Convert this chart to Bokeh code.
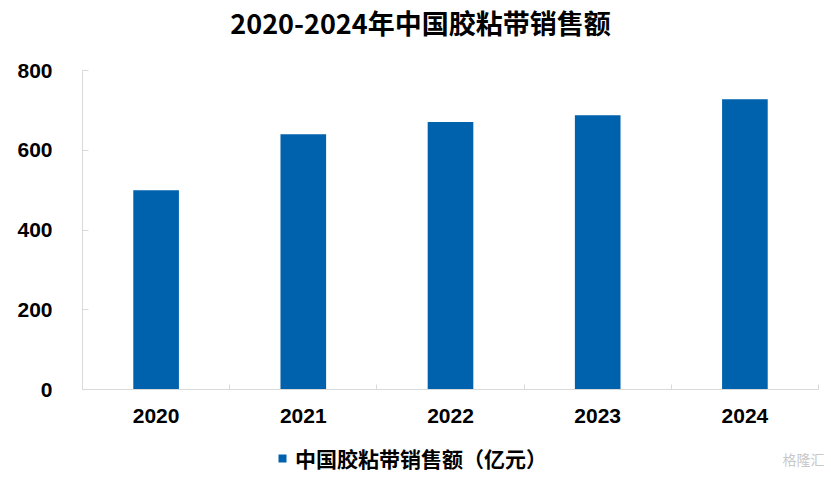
from bokeh.plotting import figure
from bokeh.models import (Range1d, LinearAxis, FixedTicker, Legend, LegendItem,
                          Label, ColumnDataSource)
from bokeh.embed import file_html
from bokeh.resources import INLINE

years = ["2020", "2021", "2022", "2023", "2024"]
sales = [500, 640, 671, 688, 728]
y_ticks = [0, 200, 400, 600, 800]
title_text = "2020-2024年中国胶粘带销售额"
series_name = "中国胶粘带销售额（亿元）"
watermark = "格隆汇"

BLUE = "#0061AD"
AXIS_GRAY = "#d9d9d9"
CJK = "Noto Sans CJK SC"
LATIN = "Liberation Sans"

W, H = 827, 473
# plot area in pixels: left 82, right 818, top 70 (=800), bottom 389 (=0)
PL, PR, PT, PB = 82, 818, 70, 389
n = len(years)
ymax = y_ticks[-1]
xpp = n / (PR - PL)            # data units per px (x)
ypp = ymax / (PB - PT)         # data units per px (y)
x0 = -0.5 - PL * xpp
x1 = n - 0.5 + (W - PR) * xpp
y0 = -(H - PB) * ypp
y1 = ymax + PT * ypp

idx = list(range(n))

p = figure(width=W, height=H, output_backend="svg", toolbar_location=None,
           x_range=Range1d(x0, x1), y_range=Range1d(y0, y1),
           min_border=0, x_axis_location=None, y_axis_location=None)
p.grid.visible = False
p.outline_line_color = None
p.background_fill_color = "white"
p.border_fill_color = "white"

src = ColumnDataSource(dict(x=idx, top=sales))
r = p.vbar(x="x", top="top", width=0.31, source=src, fill_color=BLUE,
           line_color=None)

yaxis = LinearAxis(ticker=FixedTicker(ticks=y_ticks), fixed_location=-0.5,
                   bounds=(0, ymax),
                   axis_line_color=AXIS_GRAY, major_tick_line_color=AXIS_GRAY,
                   major_tick_in=6, major_tick_out=0, minor_tick_line_color=None,
                   major_label_standoff=30, major_label_text_font=LATIN,
                   major_label_text_font_style="bold",
                   major_label_text_font_size="21px",
                   major_label_text_color="black")
p.add_layout(yaxis, "left")

bounds = [i - 0.5 for i in idx] + [idx[-1] + 0.5]
xb = LinearAxis(ticker=FixedTicker(ticks=bounds), fixed_location=0,
                bounds=(bounds[0], bounds[-1]), major_tick_in=5,
                major_tick_out=0, axis_line_color=AXIS_GRAY,
                major_tick_line_color=AXIS_GRAY, minor_tick_line_color=None,
                major_label_text_font_size="0px", major_label_standoff=0,
                major_label_overrides={b: "" for b in bounds})
p.add_layout(xb, "below")

xl = LinearAxis(ticker=FixedTicker(ticks=idx), fixed_location=0,
                major_label_overrides={i: y for i, y in zip(idx, years)},
                axis_line_color=None, major_tick_line_color=None,
                minor_tick_line_color=None, major_label_standoff=13,
                major_label_text_font=LATIN, major_label_text_font_style="bold",
                major_label_text_font_size="21px",
                major_label_text_color="black")
p.add_layout(xl, "below")

legend = Legend(items=[LegendItem(label=series_name, renderers=[r])],
                location=(277, 0), orientation="horizontal",
                glyph_width=10, glyph_height=10, label_standoff=8,
                padding=0, margin=0, border_line_color=None,
                background_fill_alpha=0, label_text_font=CJK,
                label_text_font_style="bold", label_text_font_size="21px",
                label_text_color="black")
p.add_layout(legend, "center")

title = Label(x=420, y=H - 22, x_units="screen", y_units="screen",
              text=title_text, text_align="center", text_baseline="middle",
              text_font=CJK, text_font_style="bold", text_font_size="27px",
              text_color="black")
p.add_layout(title)

wm = Label(x=W - 3, y=H - 458, x_units="screen", y_units="screen",
           text=watermark, text_align="right", text_baseline="middle",
           text_font=CJK, text_font_size="14px", text_color="#c8c8c8")
p.add_layout(wm)

open("out.html", "w").write(file_html(p, INLINE))
